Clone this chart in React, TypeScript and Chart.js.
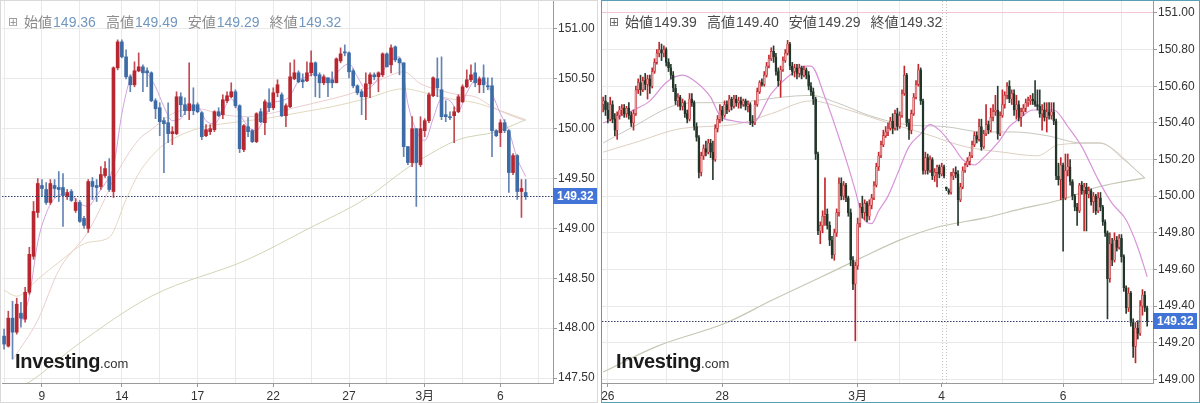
import React, { useEffect, useRef } from 'react';
import { Chart, registerables } from 'chart.js';

Chart.register(...registerables);

const FONT = '"Liberation Sans", Arial, "Noto Sans CJK JP", sans-serif';
Chart.defaults.font.family = FONT;

// ---------- header texts ----------
const headerLabels = ['始値', '高値', '安値', '終値'];
const leftHeaderValues = ['149.36', '149.49', '149.29', '149.32'];
const rightHeaderValues = ['149.39', '149.40', '149.29', '149.32'];
const lastPrice = 149.32;

// ---------- left chart (4h candles) ----------
const leftOpen = [
  147.92,147.82,148.10,147.96,148.15,148.09,148.36,148.72,149.16,149.43,
  149.39,149.26,149.43,149.41,149.41,149.32,149.37,149.18,149.26,149.10,
  149.00,149.47,149.43,149.42,149.53,149.52,149.37,150.61,150.87,150.72,
  150.52,150.44,150.58,150.62,150.58,150.56,150.28,150.21,150.08,150.06,
  149.95,149.95,150.32,150.24,150.18,150.24,150.24,150.16,149.93,149.97,
  149.99,150.17,150.14,150.28,150.32,150.37,150.23,149.79,150.02,149.98,
  149.87,150.17,150.06,150.26,150.21,150.36,150.34,150.13,150.22,150.50,
  150.56,150.49,150.48,150.56,150.66,150.54,150.46,150.51,150.49,150.46,
  150.68,150.77,150.76,150.58,150.43,150.37,150.32,150.45,150.54,150.52,
  150.54,150.75,150.64,150.82,150.70,150.66,149.82,149.66,150.00,149.64,
  149.98,150.08,150.33,150.50,150.39,150.14,150.12,150.13,150.17,150.27,
  150.42,150.49,150.56,150.44,150.51,150.43,150.43,149.98,149.96,150.06,
  149.98,149.56,149.73,149.37,149.36,
];
const leftHigh = [
  147.99,148.17,148.27,148.30,148.26,148.41,148.81,149.27,149.50,149.49,
  149.46,149.49,149.49,149.57,149.55,149.39,149.39,149.30,149.28,149.12,
  149.49,149.51,149.49,149.62,149.67,149.70,150.62,150.89,150.89,150.79,
  150.54,150.67,150.76,150.64,150.61,150.57,150.30,150.26,150.11,150.26,
  150.02,150.37,150.36,150.31,150.66,150.41,150.26,150.17,150.04,150.04,
  150.18,150.21,150.34,150.37,150.46,150.39,150.24,150.04,150.11,149.99,
  150.16,150.20,150.29,150.40,150.41,150.49,150.36,150.25,150.66,150.69,
  150.58,150.55,150.67,150.78,150.67,150.56,150.54,150.51,150.57,150.71,
  150.81,150.84,150.77,150.60,150.44,150.39,150.56,150.56,150.56,150.57,
  150.76,150.76,150.84,150.83,150.71,150.66,149.82,150.12,150.00,150.12,
  150.10,150.36,150.52,150.71,150.72,150.28,150.17,150.22,150.34,150.44,
  150.59,150.64,150.66,150.52,150.64,150.51,150.51,149.99,150.09,150.09,
  149.99,149.75,149.74,149.49,149.49,
];
const leftLow = [
  147.79,147.81,147.69,147.94,148.01,148.06,148.34,148.69,149.11,149.32,
  149.24,149.24,149.31,149.27,149.02,149.29,149.27,149.16,149.06,149.00,
  148.96,149.29,149.27,149.39,149.51,149.37,149.31,150.59,150.71,150.50,
  150.37,150.42,150.57,150.37,150.42,150.27,150.10,149.93,149.56,149.86,
  149.84,149.94,150.12,150.14,150.09,150.14,150.16,149.89,149.92,149.94,
  149.97,150.12,150.10,150.26,150.31,150.21,149.76,149.77,149.92,149.86,
  149.86,150.06,149.94,150.17,150.19,150.32,150.12,150.02,150.21,150.49,
  150.46,150.41,150.47,150.53,150.32,150.31,150.44,150.32,150.41,150.46,
  150.66,150.73,150.51,150.41,150.34,150.14,150.09,150.31,150.49,150.37,
  150.52,150.62,150.56,150.67,150.54,149.72,149.64,149.62,149.22,149.62,
  149.92,150.06,150.32,150.32,150.09,150.07,150.09,149.86,150.16,150.26,
  150.41,150.47,150.42,150.36,150.36,150.39,149.72,149.92,149.82,149.96,
  149.36,149.54,149.29,149.11,149.29,
];
const leftClose = [
  147.84,148.10,147.96,148.24,148.10,148.36,148.74,149.17,149.45,149.40,
  149.26,149.45,149.40,149.39,149.33,149.36,149.28,149.26,149.07,149.03,
  149.47,149.42,149.41,149.54,149.60,149.39,150.61,150.87,150.72,150.52,
  150.44,150.58,150.62,150.56,150.56,150.28,150.20,150.07,150.05,149.95,
  149.97,150.32,150.24,150.18,150.25,150.18,150.17,149.92,149.99,150.00,
  150.17,150.13,150.29,150.33,150.37,150.23,149.80,150.03,149.97,149.87,
  150.15,150.07,150.27,150.21,150.36,150.44,150.13,150.23,150.52,150.56,
  150.47,150.47,150.56,150.66,150.53,150.46,150.52,150.46,150.46,150.70,
  150.75,150.76,150.57,150.43,150.36,150.32,150.45,150.54,150.52,150.56,
  150.75,150.62,150.81,150.69,150.66,149.82,149.66,150.00,149.66,150.00,
  150.08,150.34,150.51,150.41,150.12,150.12,150.11,150.17,150.32,150.42,
  150.49,150.54,150.46,150.50,150.44,150.42,149.98,149.93,150.06,149.98,
  149.56,149.73,149.37,149.40,149.32,
];
// moving averages: [candle index, price]
const leftMaFast = [
  [4,148.05],[6,148.32],[8,148.86],[10,149.15],[12,149.30],[14,149.34],[16,149.33],[18,149.25],
  [20,149.22],[22,149.33],[24,149.45],[26,149.62],[28,150.15],[30,150.50],[32,150.58],[34,150.55],
  [36,150.42],[38,150.22],[40,150.08],[42,150.10],[44,150.22],[46,150.22],[48,150.08],[50,150.05],
  [52,150.18],[54,150.30],[56,150.15],[58,150.02],[60,149.98],[62,150.12],[64,150.26],[66,150.28],
  [68,150.33],[70,150.48],[72,150.52],[74,150.55],[76,150.50],[78,150.50],[80,150.60],[82,150.65],
  [84,150.52],[86,150.40],[88,150.45],[90,150.58],[92,150.68],[94,150.72],[96,150.25],[98,149.98],
  [100,149.88],[102,150.10],[104,150.30],[106,150.28],[108,150.18],[110,150.36],[112,150.48],
  [114,150.48],[116,150.35],[118,150.15],[120,149.98],[122,149.70],[124,149.52],
];
const leftMaMid = [
  [2,147.68],[8,148.08],[13,148.58],[20,148.97],[24,149.30],[26,149.49],[32,149.89],[35,149.99],
  [40,150.15],[46,150.20],[52,150.14],[58,150.12],[64,150.16],[70,150.22],[77,150.29],[83,150.36],
  [90,150.50],[95,150.57],[99,150.45],[104,150.38],[108,150.34],[112,150.32],[116,150.22],
  [120,150.14],[124,150.08],
];
const leftMaSlow = [
  [0,148.38],[3,148.32],[8,148.49],[13,148.66],[20,148.86],[25,148.91],[29,149.29],[32,149.55],
  [35,149.72],[38,149.84],[46,150.00],[54,150.06],[62,150.10],[70,150.16],[78,150.22],[86,150.30],
  [95,150.40],[100,150.36],[106,150.30],[112,150.26],[118,150.18],[124,150.09],
];
const leftMaLong = [
  [0,147.34],[6,147.46],[17,147.82],[35,148.32],[58,148.69],[72,148.99],[86,149.30],[96,149.61],
  [99,149.69],[108,149.89],[117,149.97],[124,150.09],
];
const leftTickIdx = [9, 28, 46, 64, 82, 100, 118];
const leftTickText = ['9', '14', '17', '22', '27', '3月', '6'];
const leftGridIdx = [0, 9, 18, 28, 37, 46, 55, 64, 73, 82, 91, 100, 109, 118, 127];
const leftYTicks = [147.5, 148, 148.5, 149, 149.5, 150, 150.5, 151];

// ---------- right chart (1h candles) ----------
const rightOpen = [
  150.50,150.52,150.47,150.42,150.50,150.42,150.36,150.44,150.47,150.48,
  150.45,150.48,150.44,150.40,150.45,150.58,150.62,150.58,150.63,150.61,
  150.64,150.60,150.68,150.73,150.78,150.80,150.78,150.80,150.73,150.70,
  150.66,150.59,150.52,150.54,150.49,150.51,150.45,150.42,150.53,150.51,
  150.38,150.32,150.13,150.22,150.26,150.24,150.29,150.24,150.20,150.37,
  150.42,150.47,150.44,150.50,150.47,150.53,150.49,150.53,150.51,150.52,
  150.50,150.52,150.49,150.50,150.41,150.40,150.50,150.57,150.62,150.61,
  150.66,150.71,150.75,150.79,150.76,150.68,150.63,150.69,150.74,150.78,
  150.83,150.71,150.68,150.70,150.67,150.70,150.66,150.69,150.66,150.60,
  150.57,150.53,150.23,149.81,149.84,149.89,149.90,149.84,149.76,149.68,
  149.80,149.91,150.07,150.00,150.06,149.99,149.91,149.65,149.52,149.62,
  149.85,149.94,149.91,149.96,149.89,149.95,149.99,150.06,150.16,150.22,
  150.28,150.33,150.35,150.37,150.41,150.37,150.45,150.38,150.44,150.56,
  150.66,150.40,150.36,150.45,150.54,150.61,150.69,150.52,150.14,150.21,
  150.14,150.20,150.11,150.13,150.16,150.12,150.16,150.05,150.03,150.02,
  150.11,150.13,150.12,149.98,150.05,150.14,150.17,150.19,150.22,150.28,
  150.33,150.31,150.38,150.27,150.34,150.39,150.36,150.43,150.46,150.47,
  150.34,150.44,150.50,150.55,150.60,150.53,150.56,150.47,150.50,150.43,
  150.46,150.48,150.51,150.52,150.53,150.52,150.50,150.49,150.45,150.47,
  150.43,150.46,150.44,150.46,150.41,150.11,150.09,150.17,149.99,150.14,
  150.16,150.08,150.00,149.94,149.92,150.06,150.03,150.05,150.01,150.03,
  149.97,150.00,149.92,149.99,149.94,149.86,149.80,149.55,149.74,149.65,
  149.76,149.72,149.77,149.67,149.50,149.39,149.47,149.31,149.18,149.28,
  149.25,149.40,149.46,149.39,
];
const rightHigh = [
  150.54,150.55,150.51,150.54,150.52,150.45,150.46,150.49,150.50,150.50,
  150.49,150.51,150.46,150.47,150.60,150.64,150.66,150.65,150.67,150.66,
  150.66,150.70,150.75,150.80,150.84,150.83,150.82,150.81,150.75,150.72,
  150.68,150.61,150.56,150.55,150.53,150.52,150.47,150.56,150.56,150.52,
  150.40,150.33,150.24,150.28,150.30,150.31,150.31,150.30,150.39,150.44,
  150.50,150.49,150.52,150.52,150.55,150.54,150.55,150.55,150.54,150.54,
  150.53,150.53,150.52,150.51,150.44,150.52,150.59,150.63,150.64,150.68,
  150.73,150.77,150.81,150.82,150.78,150.70,150.71,150.76,150.80,150.85,
  150.84,150.73,150.72,150.72,150.72,150.71,150.71,150.70,150.68,150.62,
  150.59,150.54,150.24,149.86,149.92,150.10,149.93,149.86,149.78,149.82,
  149.93,150.10,150.10,150.08,150.07,150.00,149.93,149.67,149.64,149.88,
  149.96,150.00,149.98,149.97,149.98,150.01,150.08,150.18,150.24,150.30,
  150.36,150.38,150.40,150.43,150.45,150.47,150.48,150.46,150.58,150.71,
  150.67,150.42,150.47,150.56,150.63,150.72,150.70,150.53,150.24,150.23,
  150.22,150.21,150.15,150.17,150.17,150.18,150.17,150.05,150.04,150.13,
  150.15,150.16,150.14,150.07,150.16,150.18,150.21,150.24,150.30,150.35,
  150.35,150.42,150.42,150.36,150.50,150.41,150.48,150.50,150.55,150.60,
  150.46,150.58,150.57,150.62,150.63,150.58,150.58,150.55,150.52,150.48,
  150.50,150.53,150.54,150.55,150.56,150.63,150.58,150.58,150.50,150.51,
  150.51,150.51,150.51,150.51,150.42,150.18,150.21,150.18,150.23,150.23,
  150.20,150.09,150.01,149.96,150.07,150.08,150.07,150.07,150.05,150.04,
  150.02,150.01,150.02,150.02,149.95,149.87,149.81,149.80,149.77,149.80,
  149.78,149.79,149.79,149.68,149.51,149.50,149.48,149.33,149.31,149.32,
  149.43,149.49,149.48,149.40,
];
const rightLow = [
  150.46,150.44,150.40,150.41,150.40,150.33,150.31,150.42,150.44,150.43,
  150.43,150.42,150.38,150.36,150.44,150.56,150.55,150.57,150.58,150.53,
  150.56,150.59,150.67,150.72,150.76,150.74,150.76,150.71,150.68,150.64,
  150.57,150.50,150.49,150.47,150.47,150.43,150.40,150.41,150.49,150.36,
  150.30,150.10,150.11,150.20,150.22,150.23,150.21,150.09,150.19,150.35,
  150.40,150.41,150.43,150.45,150.46,150.47,150.48,150.49,150.48,150.48,
  150.49,150.47,150.46,150.39,150.38,150.39,150.49,150.56,150.60,150.60,
  150.65,150.70,150.74,150.73,150.66,150.60,150.54,150.68,150.73,150.77,
  150.69,150.66,150.65,150.64,150.65,150.64,150.65,150.64,150.58,150.55,
  150.50,150.20,149.79,149.74,149.80,149.84,149.82,149.73,149.66,149.65,
  149.78,149.89,149.98,149.98,149.97,149.89,149.62,149.49,149.21,149.60,
  149.83,149.88,149.87,149.86,149.87,149.93,149.98,150.05,150.14,150.21,
  150.27,150.32,150.33,150.36,150.34,150.36,150.36,150.37,150.43,150.55,
  150.38,150.31,150.34,150.44,150.53,150.60,150.50,150.12,150.12,150.12,
  150.13,150.09,150.08,150.05,150.10,150.11,150.10,150.03,150.01,150.01,
  150.09,150.10,149.84,149.97,150.04,150.13,150.16,150.17,150.21,150.27,
  150.29,150.30,150.25,150.26,150.33,150.34,150.35,150.41,150.44,150.31,
  150.33,150.43,150.48,150.53,150.51,150.50,150.44,150.42,150.41,150.38,
  150.44,150.46,150.49,150.50,150.50,150.49,150.47,150.43,150.36,150.41,
  150.35,150.42,150.42,150.39,150.09,150.06,149.98,149.70,149.98,150.11,
  150.06,149.98,149.92,149.84,149.91,150.01,149.81,149.81,149.99,149.95,
  149.91,149.90,149.91,149.92,149.84,149.78,149.33,149.53,149.62,149.64,
  149.70,149.71,149.64,149.48,149.36,149.37,149.29,149.12,149.09,149.22,
  149.24,149.35,149.37,149.29,
];
const rightClose = [
  150.52,150.47,150.42,150.50,150.42,150.36,150.44,150.47,150.48,150.45,
  150.48,150.44,150.40,150.45,150.58,150.62,150.58,150.63,150.61,150.64,
  150.60,150.68,150.73,150.78,150.80,150.78,150.80,150.73,150.70,150.66,
  150.59,150.52,150.54,150.49,150.51,150.45,150.42,150.53,150.51,150.38,
  150.32,150.13,150.22,150.26,150.24,150.29,150.24,150.20,150.37,150.42,
  150.47,150.44,150.50,150.47,150.53,150.49,150.53,150.51,150.52,150.50,
  150.52,150.49,150.50,150.41,150.40,150.50,150.57,150.62,150.61,150.66,
  150.71,150.75,150.79,150.76,150.68,150.63,150.69,150.74,150.78,150.83,
  150.71,150.68,150.70,150.67,150.70,150.66,150.69,150.66,150.60,150.57,
  150.53,150.23,149.81,149.84,149.89,149.90,149.84,149.76,149.68,149.80,
  149.91,150.07,150.00,150.06,149.99,149.91,149.65,149.52,149.62,149.85,
  149.94,149.91,149.96,149.89,149.95,149.99,150.06,150.16,150.22,150.28,
  150.33,150.35,150.37,150.41,150.37,150.45,150.38,150.44,150.56,150.66,
  150.40,150.36,150.45,150.54,150.61,150.69,150.52,150.14,150.21,150.14,
  150.20,150.11,150.13,150.16,150.12,150.16,150.11,150.04,150.02,150.11,
  150.13,150.12,149.98,150.05,150.14,150.17,150.19,150.22,150.28,150.33,
  150.31,150.38,150.27,150.34,150.39,150.36,150.43,150.46,150.47,150.34,
  150.44,150.50,150.55,150.60,150.53,150.56,150.47,150.50,150.43,150.46,
  150.48,150.51,150.52,150.53,150.52,150.50,150.49,150.45,150.47,150.43,
  150.46,150.44,150.46,150.41,150.11,150.09,150.17,149.99,150.14,150.16,
  150.08,150.00,149.94,149.92,150.06,150.03,150.05,150.01,150.03,149.97,
  150.00,149.92,149.99,149.94,149.86,149.80,149.55,149.74,149.65,149.76,
  149.72,149.77,149.67,149.50,149.39,149.47,149.31,149.18,149.28,149.25,
  149.40,149.46,149.39,149.32,
];
const rightMaFast = [
  [0,150.40],[8,150.44],[13,150.47],[20,150.52],[27,150.62],[34,150.66],[40,150.62],[46,150.54],
  [50,150.44],[56,150.41],[64,150.40],[72,150.56],[79,150.65],[87,150.71],[89,150.71],[95,150.54],
  [101,150.32],[105,150.16],[108,150.03],[111,149.89],[115,149.85],[118,149.92],[122,150.00],
  [126,150.12],[131,150.27],[136,150.34],[140,150.39],[144,150.36],[150,150.27],[154,150.20],
  [159,150.17],[163,150.21],[169,150.29],[174,150.38],[178,150.42],[184,150.47],[193,150.47],
  [199,150.38],[205,150.27],[212,150.09],[218,149.96],[224,149.87],[229,149.72],[233,149.56],
];
const rightMaMid = [
  [0,150.29],[13,150.38],[32,150.50],[42,150.51],[59,150.51],[64,150.52],[89,150.55],[100,150.51],
  [114,150.44],[130,150.39],[146,150.38],[163,150.35],[176,150.35],[190,150.33],[205,150.29],
  [213,150.29],[223,150.20],[232,150.10],
];
const rightMaSlow = [
  [0,150.24],[13,150.29],[34,150.37],[56,150.39],[72,150.45],[89,150.52],[105,150.47],[122,150.40],
  [138,150.34],[155,150.27],[171,150.24],[186,150.22],[195,150.28],[212,150.29],[232,150.10],
];
const rightMaLong = [
  [0,149.04],[23,149.18],[53,149.31],[72,149.43],[92,149.55],[110,149.66],[127,149.76],[143,149.83],
  [163,149.88],[179,149.93],[196,149.98],[212,150.05],[232,150.10],
];
const rightTickIdx = [2, 51, 109, 145, 197];
const rightTickText = ['26', '28', '3月', '4', '6'];
const rightGridIdx = [2, 27, 51, 80, 109, 127, 171, 197, 222];
const rightWeekendIdx = [145, 147];
const rightYTicks = [149.0, 149.2, 149.4, 149.6, 149.8, 150.0, 150.2, 150.4, 150.6, 150.8, 151.0];

// ---------- overlay plugin: last-price line + label, weekend dotted lines ----------
const overlayPlugin = {
  id: 'overlay',
  beforeDatasetsDraw(chart: any, _args: any, opts: any) {
    const { ctx, chartArea, scales } = chart;
    if (!opts.dotIdx) return;
    ctx.save();
    ctx.strokeStyle = '#c4c4c4';
    ctx.lineWidth = 1;
    ctx.setLineDash([1, 2]);
    opts.dotIdx.forEach((i: number) => {
      const x = Math.round(scales.x.getPixelForValue(i)) + 0.5;
      ctx.beginPath();
      ctx.moveTo(x, chartArea.top);
      ctx.lineTo(x, chartArea.bottom);
      ctx.stroke();
    });
    ctx.restore();
  },
  afterDraw(chart: any, _args: any, opts: any) {
    const { ctx, chartArea, scales } = chart;
    const y = Math.round(scales.y.getPixelForValue(opts.price)) + 0.5;
    ctx.save();
    ctx.strokeStyle = '#2f3e6b';
    ctx.lineWidth = 1;
    ctx.setLineDash([1.5, 1.5]);
    ctx.beginPath();
    ctx.moveTo(chartArea.left, y);
    ctx.lineTo(chartArea.right, y);
    ctx.stroke();
    ctx.setLineDash([]);
    ctx.fillStyle = '#4174d6';
    ctx.fillRect(chartArea.right, y - 8.5, opts.boxWidth, 16);
    ctx.fillStyle = '#ffffff';
    ctx.font = 'bold 12px ' + FONT;
    ctx.textBaseline = 'middle';
    ctx.textAlign = 'left';
    ctx.fillText(opts.price.toFixed(2), chartArea.right + 4, y);
    ctx.restore();
  },
};

type Spec = {
  open: number[]; high: number[]; low: number[]; close: number[];
  padSlots: number; padLeft: number; axisWidth: number;
  yMin: number; yMax: number; yTicks: number[];
  tickIdx: number[]; tickText: string[]; gridIdx: number[]; dotIdx?: number[];
  upFill: string; upBorder: string; downFill: string; downBorder: string;
  upWick: string; downWick: string; bodyWidth: number; bodyBorder: number;
  lines: { points: number[][]; color: string; width: number }[];
  topGridColor?: string;
};

function buildConfig(s: Spec): any {
  const n = s.open.length + s.padSlots;
  const labels = Array.from({ length: n }, (_, i) => String(i));
  const up = s.open.map((o, i) => s.close[i] >= o);
  const tickMap = new Map<number, string>(s.tickIdx.map((i, k) => [i, s.tickText[k]]));
  const gridSet = new Set(s.gridIdx);
  const toSeries = (pts: number[][]) => {
    const arr: (number | null)[] = new Array(n).fill(null);
    pts.forEach(([i, v]) => { arr[i] = v; });
    return arr;
  };
  return {
    type: 'bar',
    data: {
      labels,
      datasets: [
        {
          type: 'bar',
          data: s.open.map((o, i) => [o, s.close[i]]),
          backgroundColor: up.map((u) => (u ? s.upFill : s.downFill)),
          borderColor: up.map((u) => (u ? s.upBorder : s.downBorder)),
          borderWidth: s.bodyBorder,
          borderSkipped: false,
          barThickness: s.bodyWidth,
          grouped: false,
          minBarLength: 1,
          order: 0,
        },
        {
          type: 'bar',
          data: s.low.map((l, i) => [l, s.high[i]]),
          backgroundColor: up.map((u) => (u ? s.upWick : s.downWick)),
          borderWidth: 0,
          barThickness: 1,
          grouped: false,
          order: 1,
        },
        ...s.lines.map((ln, k) => ({
          type: 'line',
          data: toSeries(ln.points),
          borderColor: ln.color,
          borderWidth: ln.width,
          pointRadius: 0,
          spanGaps: true,
          cubicInterpolationMode: 'monotone',
          fill: false,
          order: 2 + k,
        })),
      ],
    },
    options: {
      animation: false,
      responsive: false,
      maintainAspectRatio: false,
      events: [],
      layout: { padding: { left: s.padLeft, top: 1, right: 0, bottom: 0 } },
      plugins: {
        legend: { display: false },
        tooltip: { enabled: false },
        overlay: { price: lastPrice, dotIdx: s.dotIdx, boxWidth: 44 },
      },
      scales: {
        x: {
          type: 'category',
          offset: true,
          ticks: {
            autoSkip: false,
            maxRotation: 0,
            minRotation: 0,
            padding: 2,
            color: '#333',
            font: { size: 12, family: FONT },
            callback: (_v: any, i: number) => tickMap.get(i) ?? '',
          },
          grid: {
            offset: false,
            drawTicks: true,
            tickLength: 4,
            color: (c: any) => (gridSet.has(c.index) ? '#e9e9e9' : 'rgba(0,0,0,0)'),
            tickColor: (c: any) => (tickMap.has(c.index) ? '#999' : 'rgba(0,0,0,0)'),
          },
          border: { display: true, color: '#9a9a9a' },
          afterFit: (sc: any) => {
            sc.height = 20;
            sc.paddingLeft = 0;
            sc.paddingRight = 0;
          },
        },
        y: {
          type: 'linear',
          position: 'right',
          min: s.yMin,
          max: s.yMax,
          afterBuildTicks: (sc: any) => {
            sc.ticks = s.yTicks.map((v) => ({ value: v }));
          },
          ticks: {
            padding: 1,
            color: '#333',
            font: { size: 12, family: FONT },
            callback: (v: any) => Number(v).toFixed(2),
          },
          grid: {
            tickLength: 4,
            tickColor: '#999',
            color: (c: any) =>
              s.topGridColor && c.tick && Math.abs(c.tick.value - s.yMax) < 0.1 && c.tick.value === 151
                ? s.topGridColor
                : '#e9e9e9',
          },
          border: { display: true, color: '#9a9a9a' },
          afterFit: (sc: any) => {
            sc.width = s.axisWidth;
            sc.paddingTop = 0;
            sc.paddingBottom = 0;
          },
        },
      },
    },
    plugins: [overlayPlugin],
  };
}

const leftSpec: Spec = {
  open: leftOpen, high: leftHigh, low: leftLow, close: leftClose,
  padSlots: 6, padLeft: 2, axisWidth: 45,
  yMin: 147.45, yMax: 151.28, yTicks: leftYTicks,
  tickIdx: leftTickIdx, tickText: leftTickText, gridIdx: leftGridIdx,
  upFill: '#b8262f', upBorder: '#b8262f', downFill: '#3d6ba6', downBorder: '#3d6ba6',
  upWick: '#c24b53', downWick: '#6384b4', bodyWidth: 3, bodyBorder: 0,
  lines: [
    { points: leftMaFast, color: '#cfa3df', width: 1 },
    { points: leftMaMid, color: '#ebcdcd', width: 1 },
    { points: leftMaSlow, color: '#e2d8bf', width: 1 },
    { points: leftMaLong, color: '#cfd6b4', width: 1 },
  ],
};

const rightSpec: Spec = {
  open: rightOpen, high: rightHigh, low: rightLow, close: rightClose,
  padSlots: 2, padLeft: 1, axisWidth: 47,
  yMin: 148.98, yMax: 151.065, yTicks: rightYTicks,
  tickIdx: rightTickIdx, tickText: rightTickText, gridIdx: rightGridIdx, dotIdx: rightWeekendIdx,
  upFill: '#e7a7a7', upBorder: '#c1272d', downFill: '#22362a', downBorder: '#22362a',
  upWick: '#c1272d', downWick: '#2a3c30', bodyWidth: 2, bodyBorder: 0.6,
  lines: [
    { points: rightMaFast, color: '#d894d8', width: 1.2 },
    { points: rightMaMid, color: '#c6c7bd', width: 1 },
    { points: rightMaSlow, color: '#dccfc1', width: 1 },
    { points: rightMaLong, color: '#c4c8b4', width: 1.2 },
  ],
  topGridColor: '#f1c3d3',
};

function Panel(props: {
  spec: Spec; left: number; width: number; border: string;
  values: string[]; labelColor: string; valueColor: string; iconColor: string;
}) {
  const ref = useRef<HTMLCanvasElement>(null);
  useEffect(() => {
    const chart = new Chart(ref.current as HTMLCanvasElement, buildConfig(props.spec));
    return () => chart.destroy();
  }, []);
  return (
    <div style={{ position: 'absolute', left: props.left, top: 0, width: props.width, height: 403 }}>
      <canvas
        ref={ref}
        width={props.width}
        height={403}
        style={{ position: 'absolute', left: 0, top: 0, width: props.width, height: 403 }}
      />
      <div
        style={{
          position: 'absolute', left: 0, top: 0, width: props.width, height: 403,
          boxSizing: 'border-box', border: `1px solid ${props.border}`, pointerEvents: 'none',
        }}
      />
      <div
        style={{
          position: 'absolute', left: 8, top: 13, display: 'flex', alignItems: 'center',
          fontFamily: FONT, fontSize: 14, lineHeight: '16px', whiteSpace: 'nowrap',
        }}
      >
        <span style={{ fontFamily: '"DejaVu Sans", sans-serif', fontSize: 12, color: props.iconColor, marginRight: 6 }}>⊞</span>
        {headerLabels.map((lb, k) => (
          <span key={lb} style={{ marginRight: 10 }}>
            <span style={{ color: props.labelColor, fontFamily: '"Noto Sans CJK JP", sans-serif' }}>{lb}</span>
            <span style={{ color: props.valueColor, marginLeft: 1 }}>{props.values[k]}</span>
          </span>
        ))}
      </div>
      <div
        style={{
          position: 'absolute', left: 15, top: 351, fontFamily: FONT, whiteSpace: 'nowrap',
          lineHeight: '20px', color: '#1b1b1b',
        }}
      >
        <span style={{ fontWeight: 'bold', fontSize: 20, letterSpacing: -0.3 }}>Investing</span>
        <span style={{ fontSize: 13, color: '#333' }}>.com</span>
      </div>
    </div>
  );
}

export default function App() {
  return (
    <div style={{ position: 'fixed', left: 0, top: 0, width: 1200, height: 403, background: '#fff', overflow: 'hidden' }}>
      <Panel spec={leftSpec} left={0} width={598} border="#d9d9d9" values={leftHeaderValues}
        labelColor="#8c8c8c" valueColor="#7197bf" iconColor="#9a9a9a" />
      <Panel spec={rightSpec} left={601} width={599} border="#5aa0b5" values={rightHeaderValues}
        labelColor="#4a4a4a" valueColor="#4a4a4a" iconColor="#666" />
    </div>
  );
}
